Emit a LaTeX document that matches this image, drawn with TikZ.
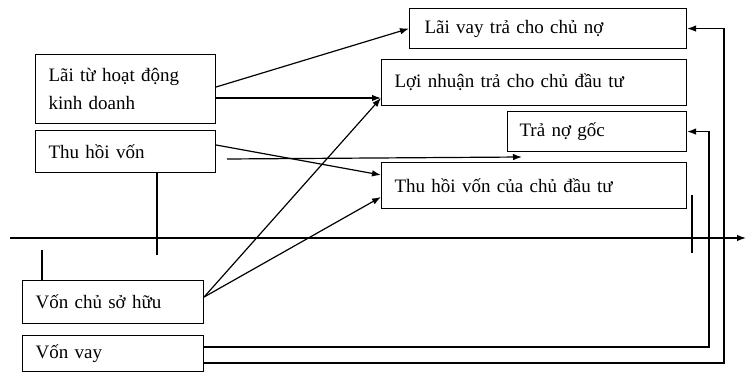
\documentclass[tikz,border=0pt]{standalone}
\usepackage{fontspec}
\setmainfont{Liberation Serif}
\usetikzlibrary{arrows.meta}
\begin{document}
\begin{tikzpicture}[x=1pt,y=-1pt,
  box/.style={draw, line width=1.1pt, rectangle, anchor=north west, inner xsep=13pt, inner ysep=0pt,
    align=left, font=\fontsize{19}{28}\selectfont},
  conn/.style={line width=1.2pt},
  arr/.style={conn, -{Latex[length=9pt,width=6.5pt]}}]
\useasboundingbox (0,0) rectangle (748,374);
% boxes
\node[box, minimum height=69, text width=154] (lai) at (35,54) {Lãi từ hoạt động\\kinh doanh};
\node[box, minimum height=42, text width=154] (thv) at (35,130) {Thu hồi vốn};
\node[box, minimum height=43, text width=155] (vcsh) at (22,280) {Vốn chủ sở hữu};
\node[box, minimum height=36, text width=155] (vv) at (22,335) {Vốn vay};
\node[box, minimum height=40, inner xsep=15pt, text width=247] (laivay) at (409,8) {Lãi vay trả cho chủ nợ};
\node[box, minimum height=46, text width=279] (ln) at (381,59) {Lợi nhuận trả cho chủ đầu tư};
\node[box, minimum height=40, inner xsep=12pt, text width=155] (tng) at (507,111) {Trả nợ gốc};
\node[box, minimum height=46, text width=279] (thvcdt) at (381,162) {Thu hồi vốn của chủ đầu tư};
% helper coordinates
\coordinate (ax0) at (10,238);
\coordinate (ax1) at (746,238);
\coordinate (t1a) at (157,172);
\coordinate (t1b) at (157,255);
\coordinate (t2a) at (42,250);
\coordinate (t3a) at (692,195);
\coordinate (t3b) at (692,253);
\coordinate (h0) at (227,159);
\coordinate (h1) at (522,157);
% time axis and ticks
\draw[arr] (ax0) -- (ax1);
\draw[conn] (t1a) -- (t1b);
\draw[conn] (t2a) -- (t2a |- vcsh.north);
\draw[conn] (t3a) -- (t3b);
\draw[arr] (h0) -- (h1);
% flows
\draw[arr] (lai.east |- 0,87) -- (laivay.west);
\draw[arr] (lai.east |- 0,98) -- (ln.west |- 0,98);
\draw[arr] (thv.east |- 0,145) -- (thvcdt.west |- 0,175);
\draw[arr] (vcsh.east |- 0,297) -- (ln.west |- 0,98);
\draw[arr] (vcsh.east |- 0,297) -- (thvcdt.west |- 0,197);
\draw[arr] (vv.east |- 0,347) -- (709,347) -- (709,0 |- tng.east) -- (tng.east);
\draw[arr] (vv.east |- 0,363) -- (724,363) -- (724,0 |- laivay.east) -- (laivay.east);
\end{tikzpicture}
\end{document}
